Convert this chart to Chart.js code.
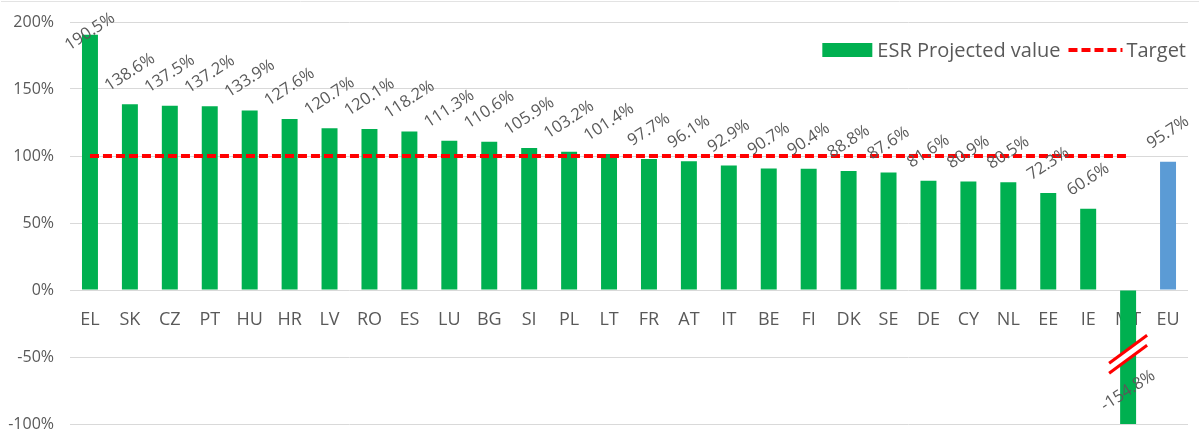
<!DOCTYPE html>
<html>
<head>
<meta charset="utf-8">
<script src="https://cdn.jsdelivr.net/npm/chart.js@4.4.0/dist/chart.umd.min.js"></script>
<style>
  html, body { margin: 0; padding: 0; background: #fff; }
  #wrap { width: 1200px; height: 433px; position: relative; }
</style>
</head>
<body>
<div id="wrap"><canvas id="chart"></canvas></div>
<script>
const categories = ['EL', 'SK', 'CZ', 'PT', 'HU', 'HR', 'LV', 'RO', 'ES', 'LU', 'BG', 'SI', 'PL', 'LT',
    'FR', 'AT', 'IT', 'BE', 'FI', 'DK', 'SE', 'DE', 'CY', 'NL', 'EE', 'IE', 'MT', 'EU'];
const projected = [190.5, 138.6, 137.5, 137.2, 133.9, 127.6, 120.7, 120.1, 118.2, 111.3, 110.6, 105.9, 103.2, 101.4,
    97.7, 96.1, 92.9, 90.7, 90.4, 88.8, 87.6, 81.6, 80.9, 80.5, 72.3, 60.6, -154.8, 95.7];
const target = [100, 100, 100, 100, 100, 100, 100, 100, 100, 100, 100, 100, 100, 100,
    100, 100, 100, 100, 100, 100, 100, 100, 100, 100, 100, 100, 100, null];
const yTicks = [-100, -50, 0, 50, 100, 150, 200];
const seriesNames = ['ESR Projected value', 'Target'];

const FONT = '"Open Sans", "Liberation Sans", sans-serif';
const GREY = '#595959';
const GREEN = '#00B050';
const BLUE = '#5B9BD5';
const RED = '#FF0000';

// Rotated value labels above each bar (kept inside the plot area like Excel does)
const valueLabels = {
    id: 'valueLabels',
    beforeDraw(chart) {
        // faint frame line at the top of the picture
        const { ctx, width } = chart;
        ctx.save();
        ctx.strokeStyle = '#E3E3E3';
        ctx.lineWidth = 1;
        ctx.beginPath();
        ctx.moveTo(1, 1.5); ctx.lineTo(width - 1, 1.5);
        ctx.stroke();
        ctx.restore();
    },
    afterDatasetsDraw(chart) {
        const { ctx, chartArea, scales } = chart;
        const meta = chart.getDatasetMeta(1);

        // axis break mark on the clipped MT bar
        const mtIndex = categories.indexOf('MT');
        const bx = scales.x.getPixelForValue(mtIndex);
        const by = scales.y.getPixelForValue(-48);
        const dx = 19, dy = 14;
        ctx.save();
        ctx.lineCap = 'butt';
        ctx.strokeStyle = '#ffffff';
        ctx.lineWidth = 9;
        ctx.beginPath();
        ctx.moveTo(bx - dx, by + dy); ctx.lineTo(bx + dx, by - dy);
        ctx.stroke();
        ctx.strokeStyle = RED;
        ctx.lineWidth = 3;
        [-5, 5].forEach(off => {
            ctx.beginPath();
            ctx.moveTo(bx - dx, by + dy + off); ctx.lineTo(bx + dx, by - dy + off);
            ctx.stroke();
        });
        ctx.restore();

        const angle = -33 * Math.PI / 180;
        ctx.save();
        ctx.font = '16.5px ' + FONT;
        ctx.fillStyle = GREY;
        ctx.textAlign = 'center';
        ctx.textBaseline = 'middle';
        meta.data.forEach((bar, i) => {
            const v = projected[i];
            const text = v.toFixed(1) + '%';
            const w = ctx.measureText(text).width;
            const half = (w / 2) * Math.sin(-angle) + 8 * Math.cos(angle);
            let cy;
            if (v >= 0) {
                cy = Math.max(bar.y - half - 10, half + 10);
            } else {
                cy = Math.min(bar.y, chartArea.bottom) - half - 10;
            }
            ctx.save();
            ctx.translate(bar.x, cy);
            ctx.rotate(angle);
            ctx.fillText(text, 0, 0);
            ctx.restore();
        });
        ctx.restore();
    }
};

// Legend drawn inside the plot, top right
const insideLegend = {
    id: 'insideLegend',
    afterDraw(chart) {
        const { ctx } = chart;
        const right = 1186;
        const cy = 50;
        ctx.save();
        ctx.font = '20px ' + FONT;
        ctx.fillStyle = GREY;
        ctx.textBaseline = 'middle';
        ctx.textAlign = 'left';
        const tW = ctx.measureText(seriesNames[1]).width;
        const tX = right - tW;
        ctx.fillText(seriesNames[1], tX, cy + 1);
        ctx.strokeStyle = RED;
        ctx.lineWidth = 4;
        ctx.setLineDash([9, 4]);
        ctx.beginPath();
        ctx.moveTo(tX - 58, cy); ctx.lineTo(tX - 4, cy);
        ctx.stroke();
        ctx.setLineDash([]);
        const eW = ctx.measureText(seriesNames[0]).width;
        const eX = tX - 66 - eW;
        ctx.fillText(seriesNames[0], eX, cy + 1);
        ctx.fillStyle = GREEN;
        ctx.fillRect(eX - 55, cy - 7, 50, 14);
        ctx.restore();
    }
};

new Chart(document.getElementById('chart'), {
    data: {
        labels: categories,
        datasets: [
            {
                type: 'line',
                label: seriesNames[1],
                data: target,
                borderColor: RED,
                borderWidth: 4,
                borderDash: [9, 4],
                pointRadius: 0,
                fill: false,
                order: 0
            },
            {
                type: 'bar',
                label: seriesNames[0],
                data: projected,
                backgroundColor: ctx => categories[ctx.dataIndex] === 'EU' ? BLUE : GREEN,
                barPercentage: 0.4,
                categoryPercentage: 1,
                clip: 0,
                order: 1
            }
        ]
    },
    options: {
        responsive: true,
        maintainAspectRatio: false,
        animation: false,
        layout: { padding: { top: 22, right: 12, bottom: 9, left: 8 } },
        plugins: {
            legend: { display: false },
            tooltip: { enabled: false }
        },
        scales: {
            x: {
                position: { y: 0 },
                afterFit: axis => { axis.height = 0; },
                grid: { display: false, drawTicks: false },
                border: { display: false },
                ticks: {
                    color: GREY,
                    font: { family: FONT, size: 18 },
                    padding: 19,
                    maxRotation: 0,
                    autoSkip: false
                }
            },
            y: {
                min: -100,
                max: 200,
                afterFit: axis => { axis.width = 62; axis.paddingTop = 0; axis.paddingBottom = 0; },
                afterBuildTicks: axis => { axis.ticks = yTicks.map(v => ({ value: v })); },
                grid: { color: '#D9D9D9', lineWidth: 1, drawTicks: false },
                border: { display: false },
                ticks: {
                    color: GREY,
                    font: { family: FONT, size: 16 },
                    padding: 16,
                    callback: v => v + '%'
                }
            }
        }
    },
    plugins: [valueLabels, insideLegend]
});
</script>
</body>
</html>
